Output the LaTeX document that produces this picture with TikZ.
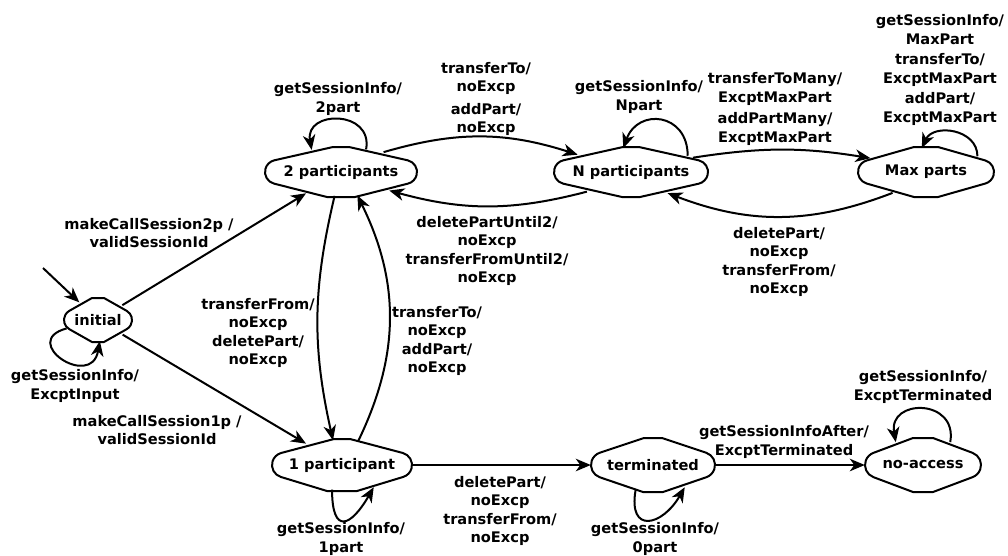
\documentclass[tikz,border=0pt]{standalone}
\usepackage{fontspec}
\setmainfont{DejaVu Sans}
\usetikzlibrary{arrows.meta,shapes.geometric}

\newcommand\lblfont{\fontsize{14.6}{18.5}\selectfont\bfseries}

\tikzset{
  wire/.style={line width=2pt, -{Stealth[length=15pt,width=12.5pt,inset=4.5pt]}},
  outline/.style={line width=2pt, line join=round},
  anchorshape/.style 2 args={ellipse, inner sep=0pt, minimum width={2*#1},
    minimum height={1.9*#2}, font=\lblfont},
  lbl/.style={align=center, font=\lblfont, inner sep=0pt},
}

% outline of a state: flat top and bottom, round ends tangent to the slopes
% #1 node, #2 half width, #3 half height, #4 half top flat, #5 half bottom flat
\newcommand\stateoutline[5]{%
  \pgfmathsetmacro\olR{0.48*#3}%
  \pgfmathsetmacro\olC{#2-\olR}%
  \pgfmathsetmacro\olT{atan2(#3,#4-\olC)-acos(\olR/sqrt((\olC-#4)^2+(#3)^2))}%
  \pgfmathsetmacro\olS{atan2(#3,#5-\olC)-acos(\olR/sqrt((\olC-#5)^2+(#3)^2))}%
  \begin{scope}[shift={(#1.center)}]
    \draw[outline] (-#4,#3) -- (#4,#3)
      -- ({\olC+\olR*cos(\olT)},{\olR*sin(\olT)})
      arc[start angle=\olT, end angle=-\olS, radius=\olR]
      -- (#5,-#3) -- (-#5,-#3)
      -- ({-\olC-\olR*cos(\olS)},{-\olR*sin(\olS)})
      arc[start angle=180+\olS, end angle=180-\olT, radius=\olR]
      -- cycle;
  \end{scope}}

% name, x, y, half width, half height, top flat, bottom flat, text
\newcommand\stateat[8]{%
  \node[anchorshape={#4}{#5}] (#1) at (#2,#3) {\makebox[0pt]{#8}};
  \stateoutline{#1}{#4}{#5}{#6}{#7}}

\begin{document}
\begin{tikzpicture}[x=1pt,y=1pt]
\useasboundingbox (0,0) rectangle (1008,-555);

% states
\stateat{init}{98}{-320}{34}{22}{6}{6}{initial}
\stateat{twoP}{341}{-172}{76}{25}{8}{14}{2 participants}
\stateat{nP}{631}{-172}{77}{25}{8}{9}{N participants}
\stateat{maxP}{926}{-172}{68}{25}{12}{12}{Max parts}
\stateat{oneP}{342}{-465}{70}{26}{8}{15}{1 participant}
\stateat{term}{653}{-465}{62}{27}{9}{10}{terminated}
\stateat{noacc}{923}{-465}{58}{27}{10}{10}{no-access}

% entry arrow
\coordinate (entry) at (43,-268);
\draw[wire] (entry) -- (init);

% transitions between states
\draw[wire] (init) -- (twoP);
\draw[wire] (init) -- (oneP);
\draw[wire] (twoP.25) to[bend left=17] (nP.162);
\draw[wire] (nP.204) to[bend left=15] (twoP.339);
\draw[wire] (nP.13) to[bend left=9] (maxP.166);
\draw[wire] (maxP.212) to[bend left=21] (nP.330);
\draw[wire] (twoP.-105) to[bend right=13] (oneP.110);
\draw[wire] (oneP.56) to[bend right=26] (twoP.-55);
\draw[wire] (oneP) -- (term);
\draw[wire] (term) -- (noacc);

% self loops
\draw[wire] (init.195) to[out=195,in=-100,looseness=3.6] (init.-85);
\draw[wire] (twoP.42) to[out=80,in=100,looseness=1.9] (twoP.143);
\draw[wire] (nP.16) to[out=90,in=70,looseness=1.7] (nP.108);
\draw[wire] (maxP.17) to[out=90,in=65,looseness=1.25] (maxP.100);
\draw[wire] (noacc.40) to[out=80,in=100,looseness=2.1] (noacc.140);
\draw[wire] (oneP.-112) to[out=-90,in=-120,looseness=2.8] (oneP.-35);
\draw[wire] (term.-125) to[out=-100,in=-120,looseness=2.35] (term.-35);

% transition labels
\node[lbl] (l1) at (75,-386) {getSessionInfo/\\ExcptInput};
\node[lbl] (l2) at (149,-233) {makeCallSession2p /\\validSessionId};
\node[lbl] (l3) at (157,-430) {makeCallSession1p /\\validSessionId};
\node[lbl] (l4) at (338,-99) {getSessionInfo/\\2part};
\node[lbl] (l5) at (486,-99) {transferTo/\\noExcp\\[4pt]addPart/\\noExcp};
\node[lbl] (l6) at (639,-97) {getSessionInfo/\\Npart};
\node[lbl] (l7) at (775,-109) {transferToMany/\\ExcptMaxPart\\[3pt]addPartMany/\\ExcptMaxPart};
\node[lbl] (l8) at (940,-70) {getSessionInfo/\\MaxPart\\[2pt]transferTo/\\ExcptMaxPart\\[2pt]addPart/\\ExcptMaxPart};
\node[lbl] (l9) at (487,-251) {deletePartUntil2/\\noExcp\\transferFromUntil2/\\noExcp};
\node[lbl] (l10) at (779,-262) {deletePart/\\noExcp\\transferFrom/\\noExcp};
\node[lbl] (l11) at (258,-333) {transferFrom/\\noExcp\\deletePart/\\noExcp};
\node[lbl] (l12) at (437,-341) {transferTo/\\noExcp\\addPart/\\noExcp};
\node[lbl] (l13) at (341,-539) {getSessionInfo/\\1part};
\node[lbl] (l14) at (500,-511) {deletePart/\\noExcp\\transferFrom/\\noExcp};
\node[lbl] (l15) at (655,-539) {getSessionInfo/\\0part};
\node[lbl] (l16) at (784,-442) {getSessionInfoAfter/\\ExcptTerminated};
\node[lbl] (l17) at (923,-387) {getSessionInfo/\\ExcptTerminated};
\end{tikzpicture}
\end{document}
